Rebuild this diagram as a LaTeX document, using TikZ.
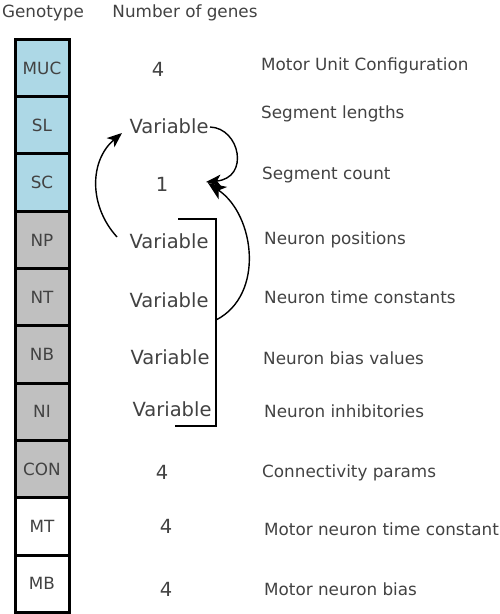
\documentclass[tikz,border=0pt]{standalone}
\usepackage{fontspec}
\setmainfont{DejaVu Sans}
\usetikzlibrary{arrows.meta}
\definecolor{txt}{HTML}{424242}
\definecolor{blueg}{HTML}{ADD8E6}
\definecolor{grayg}{HTML}{C0C0C0}
\tikzset{
  gene/.style={draw=black, line width=3pt, minimum width=54pt, minimum height=57.3pt,
    inner sep=0pt, font=\fontsize{16.8}{19}\selectfont, text=txt},
  lbl/.style={font=\fontsize{16.8}{19}\selectfont, text=txt, inner sep=0pt},
  num/.style={font=\fontsize{19.5}{22}\selectfont, text=txt, inner sep=0pt},
  desc/.style={lbl, anchor=west},
  link/.style={line width=1.4pt, -{Stealth[length=15pt,width=12pt,inset=4pt]}},
  bracket/.style={line width=2.6pt}
}
\begin{document}
\begin{tikzpicture}[x=1pt,y=-1pt]
\useasboundingbox (0,0) rectangle (499,614);

% headers
\node[lbl] (hgen) at (43,13) {Genotype};
\node[lbl] (hnum) at (185,13) {Number of genes};

% genotype column
\node[gene, fill=blueg] (muc) at (42,68.0) {MUC};
\node[gene, fill=blueg] (sl)  at (42,125.3) {SL};
\node[gene, fill=blueg] (sc)  at (42,182.6) {SC};
\node[gene, fill=grayg] (np)  at (42,239.9) {NP};
\node[gene, fill=grayg] (nt)  at (42,297.2) {NT};
\node[gene, fill=grayg] (nb)  at (42,354.5) {NB};
\node[gene, fill=grayg] (ni)  at (42,411.8) {NI};
\node[gene, fill=grayg] (con) at (42,469.1) {CON};
\node[gene, fill=white] (mt)  at (42,526.4) {MT};
\node[gene, fill=white] (mb)  at (42,583.7) {MB};

% number of genes
\node[num] (nmuc) at (158,69)  {4};
\node[num] (nsl)  at (169,126) {Variable};
\node[num] (nsc)  at (162,184) {1};
\node[num] (nnp)  at (169,241) {Variable};
\node[num] (nnt)  at (169,300) {Variable};
\node[num] (nnb)  at (170,357) {Variable};
\node[num] (nni)  at (172,409) {Variable};
\node[num] (ncon) at (162,472) {4};
\node[num] (nmt)  at (166,526) {4};
\node[num] (nmb)  at (166,589) {4};

% descriptions
\node[desc] (dmuc) at (261,66)  {Motor Unit Configuration};
\node[desc] (dsl)  at (261,114) {Segment lengths};
\node[desc] (dsc)  at (262,175) {Segment count};
\node[desc] (dnp)  at (264,240) {Neuron positions};
\node[desc] (dnt)  at (264,297) {Neuron time constants};
\node[desc] (dnb)  at (263,358) {Neuron bias values};
\node[desc] (dni)  at (264,411) {Neuron inhibitories};
\node[desc] (dcon) at (262,473) {Connectivity params};
\node[desc] (dmt)  at (264,529) {Motor neuron time constant};
\node[desc] (dmb)  at (264,589) {Motor neuron bias};

% bracket grouping the neuron genes
\coordinate (btop) at (178,219);
\coordinate (btr)  at (216,219);
\coordinate (bbr)  at (216,426);
\coordinate (bbot) at (175,426);
\coordinate (bmid) at (216,320);
\draw[bracket] (btop) -- (btr) -- (bbr) -- (bbot);

% dependency arrows
\coordinate (a1s) at (117,237);
\coordinate (a1e) at (122,133);
\draw[link] (a1s) .. controls (88,205) and (90,160) .. (a1e);

\coordinate (a2s) at (210,127);
\coordinate (a2e) at (206,182);
\draw[link] (a2s) .. controls (240,128) and (250,178) .. (a2e);

\coordinate (a3e) at (208,183);
\draw[link, -{Stealth[length=18pt,width=15pt,inset=5pt]}] (bmid) .. controls (265,295) and (255,215) .. (a3e);
\end{tikzpicture}
\end{document}
